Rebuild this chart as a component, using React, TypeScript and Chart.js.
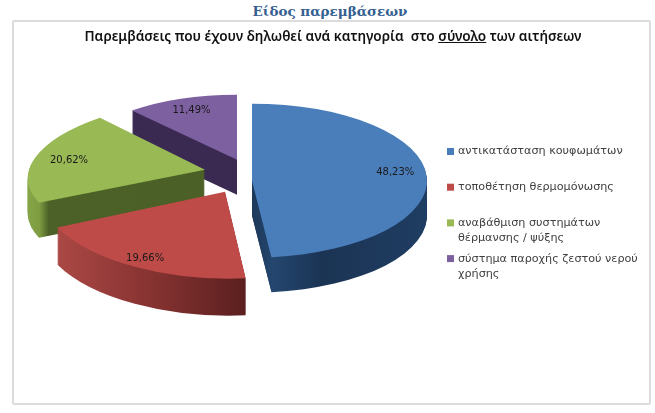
import React, { useEffect, useRef } from "react";
import { Chart, registerables } from "chart.js";

Chart.register(...registerables);

const categoryLines = [
  ["αντικατάσταση κουφωμάτων"],
  ["τοποθέτηση θερμομόνωσης"],
  ["αναβάθμιση συστημάτων", "θέρμανσης / ψύξης"],
  ["σύστημα παροχής ζεστού νερού", "χρήσης"],
];
const shares = [48.23, 19.66, 20.62, 11.49];
const topColors = ["#4a7ebb", "#be4b48", "#98b954", "#7d60a0"];
const heading = "Είδος παρεμβάσεων";
const titleBefore = "Παρεμβάσεις που έχουν δηλωθεί ανά κατηγορία  στο ";
const titleUnderlined = "σύνολο";
const titleAfter = " των αιτήσεων";

// the pie sits left of the frame's centre, leaving room for the legend
const PIE_SHIFT = -99;
// how each exploded slice is tilted: shift from the pie's centre + 2x2 projection (px per full radius)
const sliceViews = [
  { dx: 18, dy: 4.5, a: 175, b: 0, c: 0, d: 77, depth: 35, label: 0.82, labelDy: -4.5 },
  { dx: -9, dy: 15.5, a: 186, b: 0, c: 2, d: 87, depth: 37, label: 0.885, labelDy: 0 },
  { dx: -29, dy: -6.5, a: 176.6, b: -15.6, c: -2.4, d: 71.4, depth: 35, label: 0.8, labelDy: 0 },
  { dx: 3, dy: -16.5, a: 159, b: 0, c: 0.4, d: 65, depth: 35, label: 0.81, labelDy: 0 },
];
const sideStops: [number, string][][] = [
  [[0, "#1c3557"], [0.5, "#1d3858"], [0.56, "#24466f"], [0.7, "#1b3454"], [1, "#1f3d62"]],
  [[0, "#b24c49"], [0.5, "#8a3533"], [0.85, "#6b2626"], [1, "#5c1f1f"]],
  [[0, "#86a647"], [0.05, "#7f9c42"], [0.075, "#4c6127"], [1, "#4a5e26"]],
  [[0, "#3a2a52"], [1, "#3a2a52"]],
];
const drawOrder = [3, 2, 1, 0];

const TITLE_SIZE = 13.6;
const TITLE_FONT = `600 ${TITLE_SIZE}px 'Noto Sans'`;
const LABEL_FONT = "10px 'DejaVu Sans'";
const LEGEND_FONT = "11.2px 'DejaVu Sans'";
const LEGEND_ROW = 35.7;
const LEGEND_LINE = 15.5;

const tiltedPie = {
  id: "tiltedPie",
  beforeDatasetDraw() {
    return false;
  },
  afterDatasetsDraw(chart: any) {
    const { ctx } = chart;
    const meta = chart.getDatasetMeta(0);
    const withTilt = (i: number, lift: number, fn: (el: any) => void) => {
      const el = meta.data[i];
      const v = sliceViews[i];
      const R = el.outerRadius;
      ctx.save();
      ctx.transform(v.a / R, v.c / R, v.b / R, v.d / R, el.x + PIE_SHIFT + v.dx, el.y + v.dy + lift);
      ctx.translate(-el.x, -el.y);
      fn(el);
      ctx.restore();
    };
    drawOrder.forEach((i) => {
      const v = sliceViews[i];
      for (let lift = v.depth; lift >= 1; lift--) {
        withTilt(i, lift, (el) => {
          const R = el.outerRadius;
          const g = ctx.createLinearGradient(el.x - R, 0, el.x + (i === 1 ? 0.1 * R : R), 0);
          sideStops[i].forEach(([p, col]) => g.addColorStop(p, col));
          const base = el.options;
          el.options = Object.create(base, { backgroundColor: { value: g } });
          el.draw(ctx);
          el.options = base;
        });
      }
      withTilt(i, 0, (el) => el.draw(ctx));
    });
    // percentage labels
    ctx.save();
    ctx.font = LABEL_FONT;
    ctx.fillStyle = "#1a1a1a";
    ctx.textAlign = "center";
    ctx.textBaseline = "middle";
    meta.data.forEach((el: any, i: number) => {
      const v = sliceViews[i];
      const mid = (el.startAngle + el.endAngle) / 2;
      const u = Math.cos(mid) * v.label;
      const w = Math.sin(mid) * v.label;
      ctx.fillText(
        shares[i].toFixed(2).replace(".", ",") + "%",
        el.x + PIE_SHIFT + v.dx + v.a * u + v.b * w,
        el.y + v.dy + v.labelDy + v.c * u + v.d * w
      );
    });
    ctx.restore();
  },
  afterDraw(chart: any) {
    const { ctx } = chart;
    // underline of one title word
    ctx.save();
    ctx.font = TITLE_FONT;
    const whole = ctx.measureText(titleBefore + titleUnderlined + titleAfter).width;
    const start = chart.width / 2 - whole / 2 + ctx.measureText(titleBefore).width;
    const w = ctx.measureText(titleUnderlined).width;
    ctx.fillStyle = "#111";
    ctx.fillRect(start, 14, w, 1);
    // legend
    ctx.font = LEGEND_FONT;
    ctx.textBaseline = "middle";
    categoryLines.forEach((lines, i) => {
      const y = 123.5 + i * LEGEND_ROW;
      ctx.fillStyle = topColors[i];
      ctx.fillRect(429, y - 3.5, 7, 7);
      ctx.fillStyle = "#404040";
      lines.forEach((t, k) => ctx.fillText(t, 440, y + k * LEGEND_LINE));
    });
    ctx.restore();
  },
};

export default function App() {
  const ref = useRef<HTMLCanvasElement>(null);
  useEffect(() => {
    document.body.style.margin = "0";
    const chart = new Chart(ref.current as HTMLCanvasElement, {
      type: "pie",
      data: {
        labels: categoryLines.map((l) => l.join(" ")),
        datasets: [{ data: shares, backgroundColor: topColors, borderWidth: 0 }],
      },
      options: {
        animation: false,
        responsive: false,
        layout: { padding: { bottom: 98 } },
        plugins: {
          legend: { display: false },
          tooltip: { enabled: false },
          title: {
            display: true,
            text: titleBefore + titleUnderlined + titleAfter,
            color: "#111",
            font: { family: "'Noto Sans'", size: TITLE_SIZE, weight: 600 as any },
            padding: { top: 1, bottom: 9 },
          },
        },
      },
      plugins: [tiltedPie],
    });
    return () => chart.destroy();
  }, []);
  return (
    <div
      style={{
        position: "relative",
        width: 655,
        height: 413,
        background: "#fff",
        overflow: "hidden",
        filter: "blur(0.35px)",
      }}
    >
      <div
        style={{
          position: "absolute",
          left: 210,
          width: 240,
          top: 3,
          textAlign: "center",
          font: "bold 13.5px 'DejaVu Serif'",
          color: "#365f91",
          whiteSpace: "nowrap",
        }}
      >
        {heading}
      </div>
      <div
        style={{
          position: "absolute",
          left: 12,
          top: 20,
          width: 635,
          height: 381,
          border: "2px solid #dcdcdc",
          borderRadius: 2,
        }}
      />
      <canvas ref={ref} width={630} height={368} style={{ position: "absolute", left: 18, top: 28 }} />
    </div>
  );
}
